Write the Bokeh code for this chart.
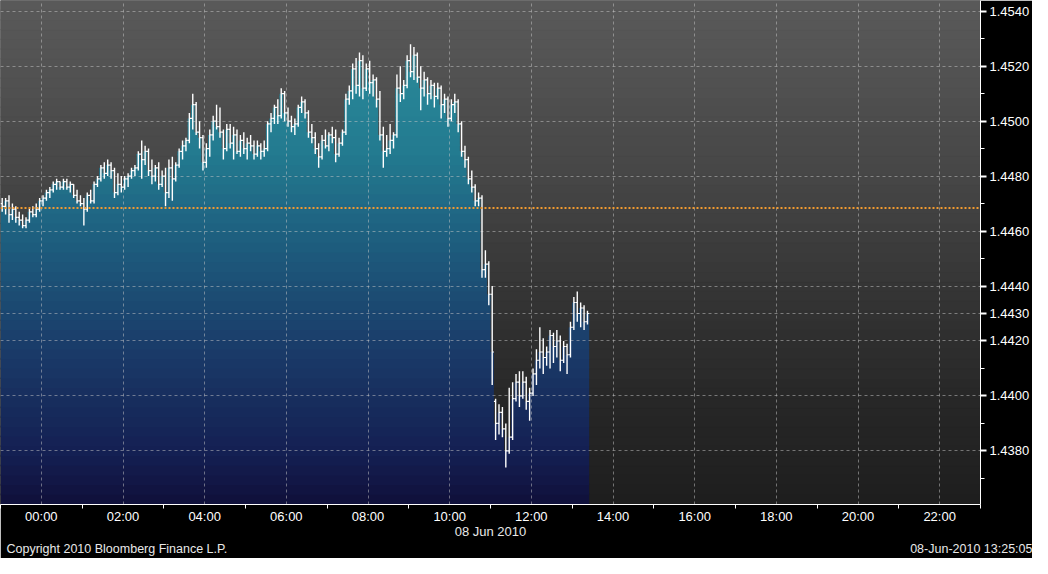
import numpy as np
from bokeh.plotting import figure
from bokeh.models import Range1d, FixedTicker, LinearAxis, Span, ColumnDataSource, NumeralTickFormatter
from bokeh.embed import file_html
from bokeh.resources import INLINE

# EUR/USD 5 minute bars, 23:00 (07 Jun) to 13:25 (08 Jun 2010)
first_hour = -1.0
bar_minutes = 5
prev_close = 1.44684
last_price = 1.4430

opens = [1.4470, 1.4469, 1.4471, 1.4466, 1.4468, 1.4465, 1.4464, 1.4462, 1.4464, 1.4467, 1.4466, 1.4468,
         1.4471, 1.4472, 1.4474, 1.4475, 1.4477, 1.4478, 1.4476, 1.4478, 1.4476, 1.4477, 1.4473, 1.4471,
         1.4470, 1.4468, 1.4473, 1.4471, 1.4477, 1.4479, 1.4483, 1.4481, 1.4484, 1.4482, 1.4474, 1.4477,
         1.4476, 1.4479, 1.4480, 1.4482, 1.4483, 1.4488, 1.4486, 1.4489, 1.4482, 1.4480, 1.4483, 1.4477,
         1.4480, 1.4474, 1.4483, 1.4479, 1.4484, 1.4489, 1.4491, 1.4493, 1.4501, 1.4506, 1.4496, 1.4494,
         1.4485, 1.4490, 1.4495, 1.4500, 1.4498, 1.4496, 1.4490, 1.4497, 1.4492, 1.4495, 1.4489, 1.4493,
         1.4490, 1.4492, 1.4491, 1.4488, 1.4491, 1.4489, 1.4490, 1.4499, 1.4501, 1.4505, 1.4502, 1.4510,
         1.4503, 1.4500, 1.4498, 1.4499, 1.4505, 1.4507, 1.4503, 1.4496, 1.4494, 1.4490, 1.4487, 1.4493,
         1.4491, 1.4495, 1.4494, 1.4488, 1.4492, 1.4496, 1.4508, 1.4511, 1.4519, 1.4513, 1.4522, 1.4512,
         1.4519, 1.4514, 1.4515, 1.4508, 1.4495, 1.4489, 1.4490, 1.4493, 1.4495, 1.4512, 1.4510, 1.4513,
         1.4522, 1.4518, 1.4524, 1.4516, 1.4512, 1.4515, 1.4510, 1.4513, 1.4509, 1.4512, 1.4506, 1.4508,
         1.4501, 1.4506, 1.4507, 1.4499, 1.4489, 1.4486, 1.4479, 1.4476, 1.4471, 1.4472, 1.4446, 1.4448,
         1.4437, 1.4398, 1.4390, 1.4394, 1.4388, 1.4380, 1.4385, 1.4399, 1.4405, 1.4400, 1.4405, 1.4398,
         1.4401, 1.4408, 1.4413, 1.4416, 1.4414, 1.4416, 1.4422, 1.4418, 1.4420, 1.4413, 1.4418, 1.4415,
         1.4425, 1.4434, 1.4430, 1.4432, 1.4427]
highs = [1.4472, 1.4472, 1.4473, 1.4470, 1.4469, 1.4467, 1.4466, 1.4465, 1.4468, 1.4469, 1.4470, 1.4472,
         1.4473, 1.4475, 1.4476, 1.4478, 1.4479, 1.4478, 1.4479, 1.4479, 1.4478, 1.4477, 1.4475, 1.4473,
         1.4472, 1.4474, 1.4475, 1.4478, 1.4480, 1.4484, 1.4485, 1.4486, 1.4485, 1.4483, 1.4481, 1.4480,
         1.4480, 1.4481, 1.4483, 1.4484, 1.4489, 1.4493, 1.4491, 1.4490, 1.4486, 1.4484, 1.4485, 1.4482,
         1.4483, 1.4486, 1.4487, 1.4485, 1.4490, 1.4493, 1.4494, 1.4503, 1.4510, 1.4507, 1.4500, 1.4495,
         1.4492, 1.4497, 1.4502, 1.4506, 1.4505, 1.4497, 1.4499, 1.4499, 1.4498, 1.4497, 1.4495, 1.4496,
         1.4494, 1.4495, 1.4493, 1.4493, 1.4492, 1.4493, 1.4500, 1.4503, 1.4506, 1.4508, 1.4512, 1.4511,
         1.4505, 1.4502, 1.4501, 1.4506, 1.4509, 1.4508, 1.4504, 1.4499, 1.4496, 1.4492, 1.4495, 1.4497,
         1.4496, 1.4498, 1.4497, 1.4494, 1.4497, 1.4510, 1.4513, 1.4521, 1.4523, 1.4525, 1.4524, 1.4521,
         1.4522, 1.4517, 1.4516, 1.4511, 1.4498, 1.4495, 1.4499, 1.4496, 1.4517, 1.4520, 1.4515, 1.4524,
         1.4528, 1.4527, 1.4525, 1.4520, 1.4518, 1.4516, 1.4515, 1.4514, 1.4514, 1.4513, 1.4510, 1.4509,
         1.4508, 1.4510, 1.4508, 1.4500, 1.4491, 1.4487, 1.4482, 1.4477, 1.4474, 1.4473, 1.4453, 1.4449,
         1.4440, 1.4399, 1.4397, 1.4396, 1.4390, 1.4403, 1.4405, 1.4408, 1.4409, 1.4409, 1.4407, 1.4403,
         1.4410, 1.4417, 1.4425, 1.4421, 1.4418, 1.4424, 1.4423, 1.4424, 1.4422, 1.4420, 1.4419, 1.4427,
         1.4436, 1.4438, 1.4434, 1.4433, 1.4431]
lows = [1.4467, 1.4466, 1.4463, 1.4464, 1.4463, 1.4462, 1.4461, 1.4461, 1.4463, 1.4465, 1.4465, 1.4467,
        1.4469, 1.4471, 1.4472, 1.4474, 1.4475, 1.4475, 1.4475, 1.4475, 1.4474, 1.4472, 1.4470, 1.4469,
        1.4462, 1.4467, 1.4470, 1.4470, 1.4476, 1.4478, 1.4479, 1.4480, 1.4479, 1.4472, 1.4473, 1.4474,
        1.4475, 1.4476, 1.4479, 1.4480, 1.4482, 1.4479, 1.4484, 1.4480, 1.4477, 1.4478, 1.4475, 1.4476,
        1.4469, 1.4472, 1.4471, 1.4478, 1.4483, 1.4486, 1.4489, 1.4492, 1.4497, 1.4495, 1.4490, 1.4482,
        1.4483, 1.4487, 1.4493, 1.4497, 1.4494, 1.4486, 1.4489, 1.4490, 1.4486, 1.4488, 1.4487, 1.4488,
        1.4486, 1.4489, 1.4486, 1.4487, 1.4486, 1.4487, 1.4489, 1.4496, 1.4499, 1.4499, 1.4501, 1.4500,
        1.4498, 1.4496, 1.4495, 1.4498, 1.4503, 1.4501, 1.4494, 1.4492, 1.4488, 1.4483, 1.4486, 1.4490,
        1.4489, 1.4492, 1.4485, 1.4487, 1.4491, 1.4495, 1.4506, 1.4508, 1.4510, 1.4509, 1.4508, 1.4511,
        1.4510, 1.4509, 1.4505, 1.4493, 1.4483, 1.4487, 1.4488, 1.4490, 1.4494, 1.4507, 1.4508, 1.4512,
        1.4516, 1.4515, 1.4514, 1.4504, 1.4509, 1.4506, 1.4508, 1.4505, 1.4508, 1.4501, 1.4503, 1.4498,
        1.4500, 1.4503, 1.4496, 1.4487, 1.4483, 1.4477, 1.4474, 1.4469, 1.4469, 1.4443, 1.4443, 1.4433,
        1.4404, 1.4384, 1.4386, 1.4385, 1.4374, 1.4379, 1.4384, 1.4398, 1.4396, 1.4399, 1.4395, 1.4391,
        1.4400, 1.4404, 1.4410, 1.4408, 1.4411, 1.4410, 1.4412, 1.4414, 1.4409, 1.4412, 1.4408, 1.4414,
        1.4424, 1.4427, 1.4425, 1.4424, 1.4426]
closes = [1.4469, 1.4471, 1.4466, 1.4468, 1.4465, 1.4464, 1.4462, 1.4464, 1.4467, 1.4466, 1.4468, 1.4471,
          1.4472, 1.4474, 1.4475, 1.4477, 1.4478, 1.4476, 1.4478, 1.4476, 1.4477, 1.4473, 1.4471, 1.4470,
          1.4468, 1.4473, 1.4471, 1.4477, 1.4479, 1.4483, 1.4481, 1.4484, 1.4482, 1.4474, 1.4477, 1.4476,
          1.4479, 1.4480, 1.4482, 1.4483, 1.4488, 1.4486, 1.4489, 1.4482, 1.4480, 1.4483, 1.4477, 1.4480,
          1.4474, 1.4483, 1.4479, 1.4484, 1.4489, 1.4491, 1.4493, 1.4501, 1.4506, 1.4496, 1.4494, 1.4485,
          1.4490, 1.4495, 1.4500, 1.4498, 1.4496, 1.4490, 1.4497, 1.4492, 1.4495, 1.4489, 1.4493, 1.4490,
          1.4492, 1.4491, 1.4488, 1.4491, 1.4489, 1.4490, 1.4499, 1.4501, 1.4505, 1.4502, 1.4510, 1.4503,
          1.4500, 1.4498, 1.4499, 1.4505, 1.4507, 1.4503, 1.4496, 1.4494, 1.4490, 1.4487, 1.4493, 1.4491,
          1.4495, 1.4494, 1.4488, 1.4492, 1.4496, 1.4508, 1.4511, 1.4519, 1.4513, 1.4522, 1.4512, 1.4519,
          1.4514, 1.4515, 1.4508, 1.4495, 1.4489, 1.4490, 1.4493, 1.4495, 1.4512, 1.4510, 1.4513, 1.4522,
          1.4518, 1.4524, 1.4516, 1.4512, 1.4515, 1.4510, 1.4513, 1.4509, 1.4512, 1.4506, 1.4508, 1.4501,
          1.4506, 1.4507, 1.4499, 1.4489, 1.4486, 1.4479, 1.4476, 1.4471, 1.4472, 1.4446, 1.4448, 1.4437,
          1.4416, 1.4390, 1.4394, 1.4388, 1.4380, 1.4385, 1.4399, 1.4405, 1.4400, 1.4405, 1.4398, 1.4401,
          1.4408, 1.4413, 1.4416, 1.4414, 1.4416, 1.4422, 1.4418, 1.4420, 1.4413, 1.4418, 1.4415, 1.4425,
          1.4434, 1.4430, 1.4432, 1.4427, 1.4430]

hour_ticks = [0, 2, 4, 6, 8, 10, 12, 14, 16, 18, 20, 22]
hour_labels = ["00:00", "02:00", "04:00", "06:00", "08:00", "10:00",
               "12:00", "14:00", "16:00", "18:00", "20:00", "22:00"]
hour_minor = [-1, 1, 3, 5, 7, 9, 11, 13, 15, 17, 19, 21, 23]
price_ticks = [1.4380, 1.4400, 1.4420, 1.4440, 1.4460, 1.4480, 1.4500, 1.4520, 1.4540]
price_minor = [1.4370, 1.4390, 1.4410, 1.4450, 1.4470, 1.4490, 1.4510, 1.4530]
date_text = "08 Jun 2010"
copyright_text = "Copyright 2010 Bloomberg Finance L.P."
stamp_text = "08-Jun-2010 13:25:05"

x0, x1 = -1, 23
y0, y1 = 1.43605, 1.45439
FONT = "Liberation Sans"


def ramp(stops, n):
    pos = [s[0] for s in stops]
    rgb = np.array([[int(h[k:k + 2], 16) for k in (1, 3, 5)] for _, h in stops], float)
    out = []
    for t in (np.arange(n) + 0.5) / n:
        c = [int(round(np.interp(t, pos, rgb[:, k]))) for k in range(3)]
        out.append("#%02x%02x%02x" % tuple(c))
    return out


def plain_axis(ax, size="13px", standoff=0):
    ax.axis_line_color = None
    ax.major_tick_line_color = None
    ax.minor_tick_line_color = None
    ax.major_tick_out = 0
    ax.major_tick_in = 0
    ax.minor_tick_out = 0
    ax.minor_tick_in = 0
    ax.major_label_text_color = "#e8e8e8"
    ax.major_label_text_font = FONT
    ax.major_label_text_font_size = size
    ax.major_label_standoff = standoff


p = figure(width=1032, height=558, output_backend="svg", toolbar_location=None,
           x_range=Range1d(x0, x1), y_range=Range1d(y0, y1), y_axis_location="right",
           min_border_left=0, min_border_top=0, min_border_right=50, min_border_bottom=40)
p.background_fill_color = "#1e1e1e"
p.border_fill_color = "black"
p.outline_line_color = None

# banded gradient backdrop
nb = 52
edges = np.linspace(y0, y1, nb + 1)
bg_cols = ramp([(0, "#1e1e1e"), (0.2, "#272727"), (0.4, "#333333"), (0.65, "#464646"), (1, "#5a5a5a")], nb)
p.quad(left=x0, right=x1, bottom=edges[:-1], top=edges[1:], fill_color=bg_cols,
       line_color=bg_cols, line_width=1, level="image")

# area under closes with the same vertical gradient
bar_h = bar_minutes / 60.0
n = len(closes)
left = first_hour + np.arange(n) * bar_h
xs = np.column_stack([left, left + bar_h]).ravel()
ys = np.repeat(np.array(closes), 2)
area_cols = ramp([(0, "#10103a"), (0.1, "#141f52"), (0.3, "#1a3a68"), (0.5, "#1d5a7c"),
                  (0.7, "#237b90"), (1, "#2d909e")], nb)
eps = (y1 - y0) / nb * 0.15
for k in range(nb):
    lo, hi = edges[k], edges[k + 1]
    top = np.clip(ys, lo, hi + eps)
    if np.all(top <= lo):
        continue
    p.varea(x=xs, y1=lo, y2=top, fill_color=area_cols[k], level="image")

# OHLC bars
src = ColumnDataSource(dict(x=left + bar_h / 2, xl=left, xr=left + bar_h,
                            o=opens, h=highs, l=lows, c=closes))
p.segment(x0="x", y0="l", x1="x", y1="h", source=src, line_color="white", line_width=1.4)
p.segment(x0="xl", y0="o", x1="x", y1="o", source=src, line_color="white", line_width=1.2)
p.segment(x0="x", y0="c", x1="xr", y1="c", source=src, line_color="white", line_width=1.2)

p.add_layout(Span(location=prev_close, dimension="width", line_color="#f09a30",
                  line_dash="2 2", line_width=2))

p.grid.grid_line_color = "#c8c8c8"
p.grid.grid_line_alpha = 0.5
p.grid.grid_line_dash = "3 3"

# time axis
xa = p.xaxis[0]
xa.ticker = FixedTicker(ticks=hour_ticks, minor_ticks=hour_minor)
xa.major_label_overrides = {t: s for t, s in zip(hour_ticks, hour_labels)}
xa.major_tick_line_color = None
xa.major_tick_out = 0
xa.major_tick_in = 0
xa.minor_tick_out = 4
xa.minor_tick_in = 0
xa.minor_tick_line_color = "white"
xa.axis_line_color = "white"
xa.major_label_text_color = "white"
xa.major_label_text_font = FONT
xa.major_label_text_font_size = "13px"
xa.major_label_standoff = 0

date_axis = LinearAxis(ticker=FixedTicker(ticks=[11]), major_label_overrides={11: date_text})
plain_axis(date_axis, "13px", -3)
p.add_layout(date_axis, "below")

foot_axis = LinearAxis(ticker=FixedTicker(ticks=[1.85, 22.95]),
                       major_label_overrides={1.85: copyright_text, 22.95: stamp_text})
plain_axis(foot_axis, "12.5px", 0)
p.add_layout(foot_axis, "below")

# price axis, last trade shown as an extra label
ya = p.yaxis[0]
ya.ticker = FixedTicker(ticks=price_ticks + [last_price], minor_ticks=price_minor)
ya.formatter = NumeralTickFormatter(format="0.0000")
ya.axis_line_color = "white"
ya.major_tick_line_color = "white"
ya.major_tick_line_width = 2
ya.major_tick_out = 6
ya.major_tick_in = 0
ya.minor_tick_line_color = "white"
ya.minor_tick_out = 4
ya.minor_tick_in = 0
ya.major_label_text_color = "white"
ya.major_label_text_font = FONT
ya.major_label_text_font_size = "13px"
ya.major_label_standoff = 3

open("out.html", "w").write(file_html(p, INLINE))
